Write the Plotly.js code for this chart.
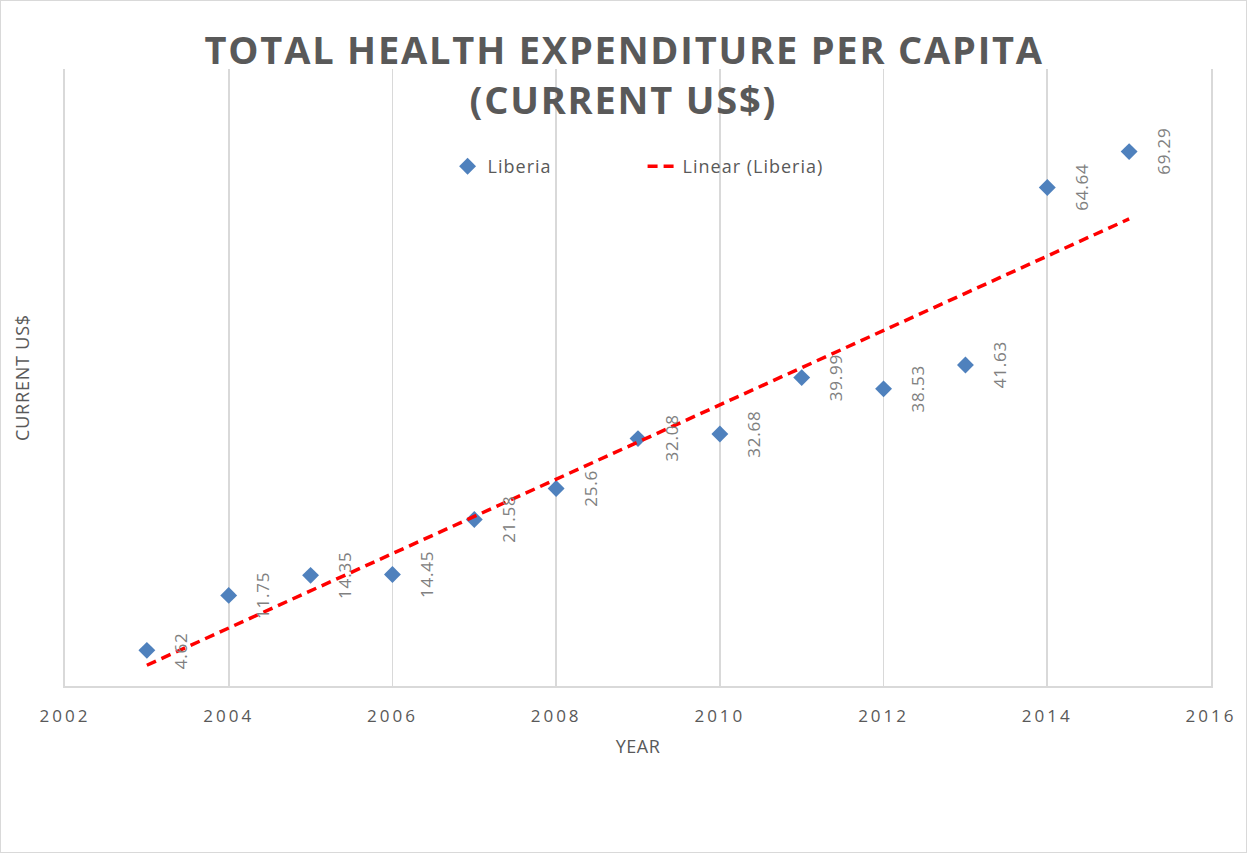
<!DOCTYPE html>
<html>
<head>
<meta charset="utf-8">
<script src="https://cdn.plot.ly/plotly-3.0.1.min.js"></script>
<style>
  body { margin: 0; background: #fff; }
  #frame { width: 1245px; height: 851px; border: 1px solid #d9d9d9; }
  #chart { width: 1245px; height: 851px; }
  .xtick text { letter-spacing: 3px; }
  .xtitle { letter-spacing: 0.5px; }
  .annotation-text { letter-spacing: 0.8px; }
  .legendtext { letter-spacing: 1px; }
</style>
</head>
<body>
<div id="frame"><div id="chart"></div></div>
<script>
// Liberia — total health expenditure per capita (current US$)
const years = [2003, 2004, 2005, 2006, 2007, 2008, 2009, 2010, 2011, 2012, 2013, 2014, 2015];
const spend = [4.62, 11.75, 14.35, 14.45, 21.58, 25.6, 32.08, 32.68, 39.99, 38.53, 41.63, 64.64, 69.29];
const xTicks = [2002, 2004, 2006, 2008, 2010, 2012, 2014, 2016];
const titleLines = ['TOTAL HEALTH EXPENDITURE PER CAPITA', '(CURRENT US$)'];

// least squares fit, same as an Excel linear trendline
const n = years.length;
const mx = years.reduce((a, b) => a + b, 0) / n;
const my = spend.reduce((a, b) => a + b, 0) / n;
let sxy = 0, sxx = 0;
years.forEach((x, i) => { sxy += (x - mx) * (spend[i] - my); sxx += (x - mx) * (x - mx); });
const slope = sxy / sxx;
const icpt = my - slope * mx;
const trendX = [years[0], years[n - 1]];
const trendY = trendX.map(x => icpt + slope * x);

const grey = '#595959';
const gridGrey = '#d9d9d9';

const data = [{
    x: years,
    y: spend,
    type: 'scatter',
    mode: 'markers',
    name: 'Liberia',
    marker: { symbol: 'diamond', size: 13, color: '#4f81bd' },
    cliponaxis: false
}, {
    x: trendX,
    y: trendY,
    type: 'scatter',
    mode: 'lines',
    name: 'Linear (Liberia)',
    line: { color: '#ff0000', width: 3.5, dash: '10px,6px' }
}];

const labels = years.map((yr, i) => ({
    x: yr,
    y: spend[i],
    xref: 'x',
    yref: 'y',
    text: String(spend[i]),
    textangle: -90,
    showarrow: false,
    xshift: 34,
    font: { family: 'Open Sans, sans-serif', size: 17, color: '#808080' }
}));

labels.push({
    x: -0.038, y: 0.5, xref: 'paper', yref: 'paper',
    xanchor: 'center', yanchor: 'middle',
    text: 'CURRENT US$', textangle: -90, showarrow: false,
    font: { family: 'Open Sans, sans-serif', size: 18, color: grey }
});

// two title lines, centred on the whole chart like the Excel title
[1.032, 0.951].forEach((yy, i) => labels.push({
    x: 0.4874, y: yy, xref: 'paper', yref: 'paper',
    xanchor: 'center', yanchor: 'middle',
    text: '<b>' + titleLines[i] + '</b>', showarrow: false,
    font: { family: 'Open Sans, sans-serif', size: 38, color: grey }
}));

const layout = {
    width: 1245,
    height: 851,
    paper_bgcolor: '#ffffff',
    plot_bgcolor: '#ffffff',
    margin: { t: 68, r: 35, b: 166, l: 64 },
    font: { family: 'Open Sans, sans-serif', color: grey },
    showlegend: true,
    legend: {
        orientation: 'h',
        x: 0.504, xanchor: 'center',
        y: 0.842, yanchor: 'middle',
        font: { family: 'Open Sans, sans-serif', size: 18, color: grey },
        bgcolor: 'rgba(0,0,0,0)',
        entrywidth: 150
    },
    xaxis: {
        range: [2002, 2016],
        tickvals: xTicks,
        ticktext: xTicks.map(String),
        showgrid: true,
        gridcolor: gridGrey,
        gridwidth: 1.8,
        showline: true,
        linecolor: gridGrey,
        linewidth: 1.8,
        zeroline: false,
        ticks: '',
        ticklabelstandoff: 14,
        tickfont: { family: 'Open Sans, sans-serif', size: 17, color: grey },
        title: {
            text: 'YEAR',
            standoff: 14,
            font: { family: 'Open Sans, sans-serif', size: 18, color: grey }
        }
    },
    yaxis: {
        range: [0, 80],
        showticklabels: false,
        showgrid: false,
        // left/right lines stand in for the 2002 and 2016 gridlines
        showline: true,
        mirror: true,
        linecolor: gridGrey,
        linewidth: 1.8,
        zeroline: false,
        ticks: ''
    },
    annotations: labels
};

Plotly.newPlot('chart', data, layout, { displayModeBar: false, staticPlot: true }).then(() => {
    // letter spacing on the title lines only
    document.querySelectorAll('.annotation-text').forEach(t => {
        if (titleLines.some(s => t.textContent === s)) t.style.letterSpacing = '1.8px';
    });
});
</script>
</body>
</html>
